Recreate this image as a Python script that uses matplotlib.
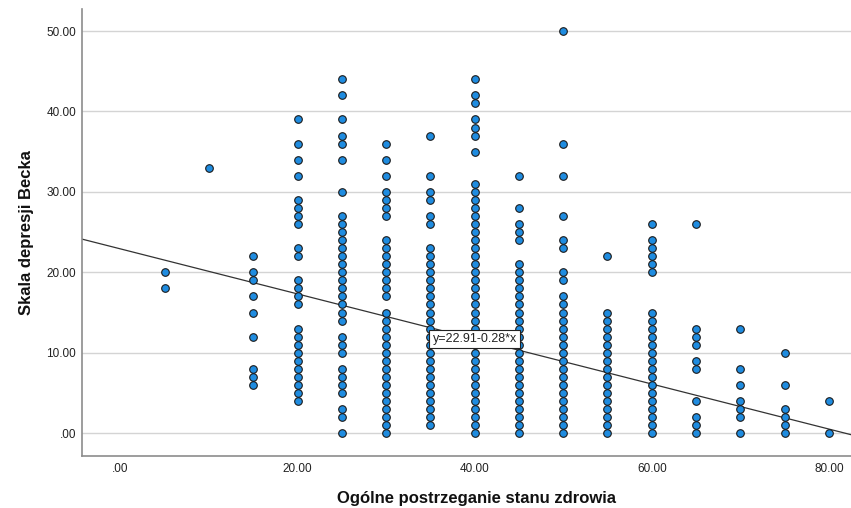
import matplotlib
matplotlib.use("Agg")
import matplotlib.pyplot as plt
import numpy as np

# Data: x category -> list of y values (Beck depression scale)
x_vals = [5, 10, 15, 20, 25, 30, 35, 40, 45, 50, 55, 60, 65, 70, 75, 80]
y_5 = [20, 18]
y_10 = [33]
y_15 = [22, 20, 19, 17, 15, 12, 8, 7, 6]
y_20 = [39, 36, 34, 32, 29, 28, 27, 26, 23, 22, 19, 18, 17, 16,
        13, 12, 11, 10, 9, 8, 7, 6, 5, 4]
y_25 = [44, 42, 39, 37, 36, 34, 30, 27, 26, 25, 24, 23, 22, 21, 20, 19, 18,
        17, 16, 15, 14, 12, 11, 10, 8, 7, 6, 5, 3, 2, 0]
y_30 = [36, 34, 32, 30, 29, 28, 27, 24, 23, 22, 21, 20, 19, 18, 17,
        15, 14, 13, 12, 11, 10, 9, 8, 7, 6, 5, 4, 3, 2, 1, 0]
y_35 = [37, 32, 30, 29, 27, 26, 23, 22, 21, 20, 19, 18, 17, 16, 15, 14, 13,
        12, 11, 10, 9, 8, 7, 6, 5, 4, 3, 2, 1]
y_40 = [44, 42, 41, 39, 38, 37, 35, 31, 30, 29, 28, 27, 26, 25, 24, 23, 22,
        21, 20, 19, 18, 17, 16, 15, 14, 13, 12, 11, 10, 9, 8, 7, 6, 5, 4, 3,
        2, 1, 0]
y_45 = [32, 28, 26, 25, 24, 21, 20, 19, 18, 17, 16, 15, 14, 13, 12, 11, 10,
        9, 8, 7, 6, 5, 4, 3, 2, 1, 0]
y_50 = [50, 36, 32, 27, 24, 23, 20, 19, 17, 16, 15, 14, 13, 12, 11, 10, 9,
        8, 7, 6, 5, 4, 3, 2, 1, 0]
y_55 = [22, 15, 14, 13, 12, 11, 10, 9, 8, 7, 6, 5, 4, 3, 2, 1, 0]
y_60 = [26, 24, 23, 22, 21, 20, 15, 14, 13, 12, 11, 10, 9, 8, 7, 6, 5, 4,
        3, 2, 1, 0]
y_65 = [26, 13, 12, 11, 9, 8, 4, 2, 1, 0]
y_70 = [13, 8, 6, 4, 3, 2, 0]
y_75 = [10, 6, 3, 2, 1, 0]
y_80 = [4, 0]
y_groups = [y_5, y_10, y_15, y_20, y_25, y_30, y_35, y_40, y_45, y_50,
            y_55, y_60, y_65, y_70, y_75, y_80]

intercept = 22.91
slope = -0.28
fit_label = "y=22.91-0.28*x"

x_ticks = [0, 20, 40, 60, 80]
x_ticklabels = [".00", "20.00", "40.00", "60.00", "80.00"]
y_ticks = [0, 10, 20, 30, 40, 50]
y_ticklabels = [".00", "10.00", "20.00", "30.00", "40.00", "50.00"]
x_title = "Ogólne postrzeganie stanu zdrowia"
y_title = "Skala depresji Becka"

plt.rcParams['font.family'] = ['Liberation Sans', 'DejaVu Sans']

fig = plt.figure(figsize=(8.51, 5.08), dpi=100)
ax = fig.add_axes([0.0958, 0.103, 0.9042, 0.8787])

xs = np.concatenate([[x] * len(g) for x, g in zip(x_vals, y_groups)])
ys = np.concatenate([np.array(g, dtype=float) for g in y_groups])

xlim = (-4.4, 82.5)
ylim = (-2.8, 52.7)
ax.set_xlim(*xlim)
ax.set_ylim(*ylim)

for yt in y_ticks:
    ax.axhline(yt, color='#d4d4d4', lw=1.0, zorder=0)

lx = np.array(xlim)
ax.plot(lx, intercept + slope * lx, color='#333333', lw=0.9, zorder=2)

ax.scatter(xs, ys, s=30, facecolor='#1f8ce0', edgecolor='#1a1a1a',
           linewidths=0.8, zorder=3)

ax.text(40, intercept + slope * 40, fit_label, ha='center', va='center',
        fontsize=9, color='#222222', zorder=4,
        bbox=dict(boxstyle='square,pad=0.25', facecolor='white',
                  edgecolor='#222222', linewidth=0.8))

ax.set_xticks(x_ticks)
ax.set_xticklabels(x_ticklabels)
ax.set_yticks(y_ticks)
ax.set_yticklabels(y_ticklabels)
ax.tick_params(axis='both', length=0, labelsize=8.5, colors='#222222')
ax.tick_params(axis='x', pad=5)
ax.tick_params(axis='y', pad=4)

for side in ['top', 'right']:
    ax.spines[side].set_visible(False)
for side in ['left', 'bottom']:
    ax.spines[side].set_color('#8c8c8c')
    ax.spines[side].set_linewidth(1.2)

ax.set_xlabel(x_title, fontsize=12, fontweight='bold', color='#111111',
              va='center', ha='center')
ax.xaxis.set_label_coords(0.513, -0.097)
ax.set_ylabel(y_title, fontsize=12, fontweight='bold', color='#111111',
              va='center', ha='center')
ax.yaxis.set_label_coords(-0.072, 0.5)

fig.savefig("out.png", dpi=100)
